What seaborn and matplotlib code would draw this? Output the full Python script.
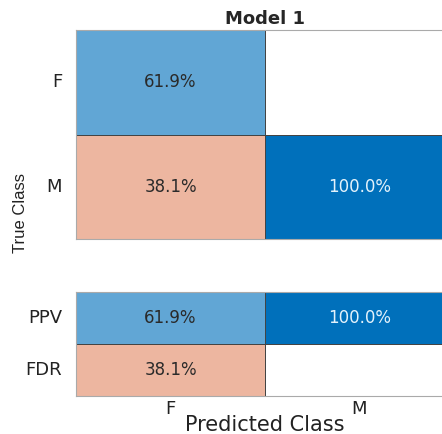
import numpy as np
import pandas as pd
import matplotlib
matplotlib.use("Agg")
import matplotlib.pyplot as plt
from matplotlib.colors import LinearSegmentedColormap
import seaborn as sns

classes = ["F", "M"]
# column-normalized confusion matrix (rows: true class, cols: predicted class), in %
cm_F = [61.9, 0.0]
cm_M = [38.1, 100.0]
summary_labels = ["PPV", "FDR"]
ppv = [61.9, 100.0]
fdr = [38.1, 0.0]

sns.set_style("white")
plt.rcParams['font.family'] = ['DejaVu Sans']

blue_cmap = LinearSegmentedColormap.from_list("b", ["#ffffff", "#0070BB"])
red_cmap = LinearSegmentedColormap.from_list("r", ["#ffffff", "#D03F06"])

fig = plt.figure(figsize=(4.42, 4.34), dpi=100)
ax1 = fig.add_axes([76/442, (434-239)/434, 378/442, 209/434])
ax2 = fig.add_axes([76/442, (434-396)/434, 378/442, 104/434])

def labels(arr):
    return np.array([["%.1f%%" % v for v in row] for row in arr])

top = pd.DataFrame([cm_F, cm_M], index=classes, columns=classes)
vals = top.values
diag = np.eye(2, dtype=bool)
kw = dict(vmin=0, vmax=100, cbar=False, linewidths=0.4, linecolor="#444444",
          fmt="", annot_kws={"fontsize": 12})
sns.heatmap(top, ax=ax1, mask=~diag | (vals == 0), cmap=blue_cmap,
            annot=labels(vals), **kw)
sns.heatmap(top, ax=ax1, mask=diag | (vals == 0), cmap=red_cmap,
            annot=labels(vals), **kw)

bot = pd.DataFrame([ppv, fdr], index=summary_labels, columns=classes)
bvals = bot.values
rowmask_top = np.array([[False, False], [True, True]])
sns.heatmap(bot, ax=ax2, mask=rowmask_top | (bvals == 0), cmap=blue_cmap,
            annot=labels(bvals), **kw)
sns.heatmap(bot, ax=ax2, mask=~rowmask_top | (bvals == 0), cmap=red_cmap,
            annot=labels(bvals), **kw)

for ax in (ax1, ax2):
    for s in ax.spines.values():
        s.set_visible(True)
        s.set_color("#aaaaaa")
        s.set_linewidth(0.8)
    ax.tick_params(length=0, labelsize=13, pad=10, labelcolor="#222222")
    ax.set_yticklabels(ax.get_yticklabels(), rotation=0)
    ax.set_ylabel("")

for t in ax1.texts + ax2.texts:
    if t.get_text() == "100.0%":
        t.set_color("#e3f2fb")
    else:
        t.set_color("#2a2a2a")

ax1.set_xticks([])
ax1.set_xlabel("")
ax1.set_title("Model 1", fontsize=13, fontweight="bold", pad=4)

ax2.set_xticklabels(classes, fontsize=13)
ax2.tick_params(axis="x", pad=3)
ax2.set_xlabel("Predicted Class", fontsize=15, labelpad=-2, color="#222222")

fig.text(21/442, (434-213)/434, "True Class", rotation=90, ha="center",
         va="center", fontsize=12, family=["Liberation Sans", "DejaVu Sans"],
         color="#222222")

fig.savefig("out.png", dpi=100)
